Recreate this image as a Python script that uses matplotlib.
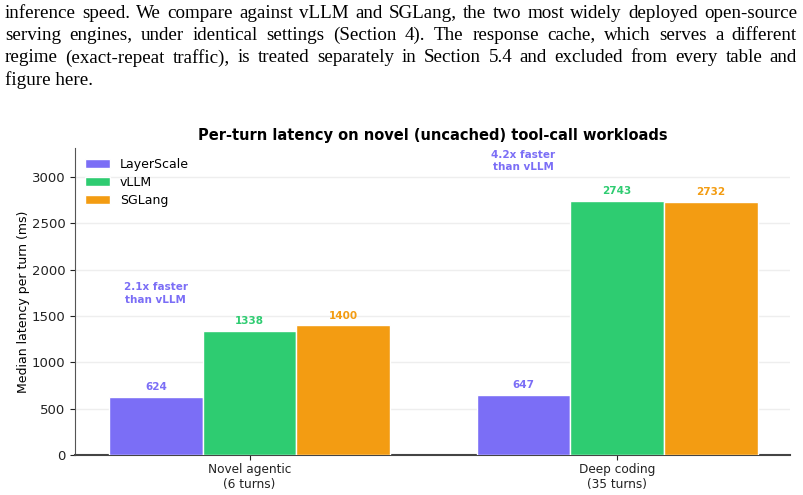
import matplotlib
matplotlib.use("Agg")
import matplotlib.pyplot as plt
import numpy as np

# ---- data ----
categories = ["Novel agentic\n(6 turns)", "Deep coding\n(35 turns)"]
systems = ["LayerScale", "vLLM", "SGLang"]
layerscale = [624, 647]
vllm = [1338, 2743]
sglang = [1400, 2732]
speedups = ["2.1x", "4.2x"]
speedup_y = [1740, 3170]
yticks = [0, 500, 1000, 1500, 2000, 2500, 3000]

paragraph = [
    "inference speed. We compare against vLLM and SGLang, the two most widely deployed open-source",
    "serving engines, under identical settings (Section 4). The response cache, which serves a different",
    "regime (exact-repeat traffic), is treated separately in Section 5.4 and excluded from every table and",
    "figure here.",
]

colors = ["#7B6EF6", "#2ECC71", "#F39C12"]

fig = plt.figure(figsize=(8.04, 4.95), dpi=100)
fig.patch.set_facecolor("white")

# ---- paragraph text (justified) ----
renderer = fig.canvas.get_renderer()
left_px, right_px = 5, 797
line_y = [13, 35, 58, 80]
fs = 13.7
for i, line in enumerate(paragraph):
    yf = 1 - line_y[i] / 495
    words = line.split(" ")
    if i == len(paragraph) - 1:
        fig.text(left_px / 804, yf, line, fontsize=fs, family="Liberation Serif",
                 va="center", ha="left")
        continue
    tmp = [fig.text(0, 0, w, fontsize=fs, family="Liberation Serif") for w in words]
    widths = [t.get_window_extent(renderer).width for t in tmp]
    for t in tmp:
        t.remove()
    gap = (right_px - left_px - sum(widths)) / (len(words) - 1)
    x = left_px
    for w, wd in zip(words, widths):
        fig.text(x / 804, yf, w, fontsize=fs, family="Liberation Serif",
                 va="center", ha="left")
        x += wd + gap

# ---- chart ----
ax = fig.add_axes([75 / 804, 1 - 455 / 495, (790 - 75) / 804, (455 - 148) / 495])
x = np.arange(len(categories))
w = 0.255
series = [layerscale, vllm, sglang]
for k, (name, vals, c) in enumerate(zip(systems, series, colors)):
    pos = x + (k - 1) * w
    ax.bar(pos, vals, width=w, color=c, edgecolor="white", linewidth=1, label=name, zorder=3)
    for p, v in zip(pos, vals):
        ax.text(p, v + 50, f"{v}", ha="center", va="bottom", fontsize=7.5,
                fontweight="bold", color=c, zorder=4)

for i in range(len(categories)):
    ax.text(x[i] - w, speedup_y[i], f"{speedups[i]} faster\nthan vLLM", ha="center",
            va="center", fontsize=7.5, fontweight="bold", color=colors[0],
            linespacing=1.35)

ax.set_xlim(-0.475, 1.47)
ax.set_ylim(0, 3310)
ax.set_xticks(x)
ax.set_xticklabels(categories, fontsize=8.7)
ax.set_yticks(yticks)
ax.tick_params(axis="y", labelsize=9.5, colors="#222222")
ax.tick_params(axis="x", colors="#222222", pad=2.5)
ax.set_ylabel("Median latency per turn (ms)", fontsize=9, labelpad=1)
ax.set_title("Per-turn latency on novel (uncached) tool-call workloads",
             fontsize=10.5, fontweight="bold", pad=6)
ax.grid(axis="y", color="#eeeeee", linewidth=1, zorder=0)
ax.set_axisbelow(True)
for s in ["top", "right"]:
    ax.spines[s].set_visible(False)
ax.spines["left"].set_color("#555555")
ax.spines["bottom"].set_color("#444444")
ax.spines["bottom"].set_linewidth(1.5)

ax.legend(loc="upper left", frameon=False, fontsize=9, handlelength=2.0,
          handleheight=0.8, borderaxespad=0.4, labelspacing=0.4)

fig.savefig("out.png", dpi=100, facecolor="white")
